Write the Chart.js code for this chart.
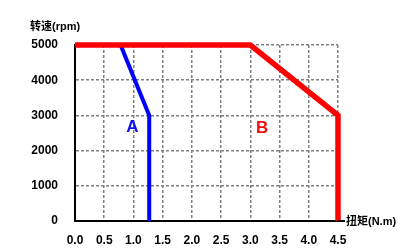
<!DOCTYPE html>
<html>
<head>
<meta charset="utf-8">
<script src="https://cdn.jsdelivr.net/npm/chart.js@4/dist/chart.umd.min.js"></script>
<style>
  html, body { margin: 0; padding: 0; background: #fff; }
  #wrap { width: 398px; height: 248px; }
</style>
</head>
<body>
<div id="wrap"><canvas id="speedTorqueChart"></canvas></div>
<script>
// Torque (N.m) / speed (rpm) curves
const torqueA = [0.78, 1.27, 1.27];
const speedA = [5000, 3000, 0];
const torqueB = [0, 3.0, 4.5, 4.5];
const speedB = [5000, 5000, 3000, 0];
const xTicks = [0, 0.5, 1, 1.5, 2, 2.5, 3, 3.5, 4, 4.5];
const yTicks = [0, 1000, 2000, 3000, 4000, 5000];
const xTitle = "扭矩(N.m)";
const yTitle = "转速(rpm)";

function toPoints(xs, ys) {
  return xs.map((x, i) => {
    return { x: x, y: ys[i] };
  });
}

// axis titles, curve names and the short axis overrun
const labelPlugin = {
  id: "labels",
  afterDraw(chart) {
    const ctx = chart.ctx;
    const area = chart.chartArea;
    const xs = chart.scales.x;
    const ys = chart.scales.y;
    ctx.save();
    ctx.strokeStyle = "#000";
    ctx.lineWidth = 2;
    ctx.beginPath();
    ctx.moveTo(area.right, area.bottom);
    ctx.lineTo(area.right + 7, area.bottom);
    ctx.stroke();

    ctx.fillStyle = "#000";
    ctx.textBaseline = "middle";
    ctx.textAlign = "left";
    ctx.font = "bold 11px 'Liberation Sans', 'Noto Sans CJK SC', sans-serif";
    ctx.fillText(yTitle, 30, 27);
    ctx.fillText(xTitle, area.right + 8, area.bottom + 1);

    ctx.textAlign = "center";
    ctx.font = "bold 17px 'Liberation Sans', Arial, sans-serif";
    ctx.fillStyle = "#1010f0";
    ctx.fillText("A", xs.getPixelForValue(0.98), ys.getPixelForValue(2660));
    ctx.fillStyle = "#f01010";
    ctx.fillText("B", xs.getPixelForValue(3.2), ys.getPixelForValue(2630));
    ctx.restore();
  },
};

const tickFont = { family: "'Liberation Sans', Arial, sans-serif", size: 12, weight: "bold" };
const lineClip = { left: 0, top: 4, right: 4, bottom: 0 };

const config = {
  type: "scatter",
  data: {
    datasets: [
      {
        label: "B",
        data: toPoints(torqueB, speedB),
        showLine: true,
        borderColor: "#ff0000",
        borderWidth: 5.5,
        pointRadius: 0,
        borderJoinStyle: "miter",
        clip: lineClip,
      },
      {
        label: "A",
        data: toPoints(torqueA, speedA),
        showLine: true,
        borderColor: "#0000ff",
        borderWidth: 4,
        pointRadius: 0,
        borderJoinStyle: "miter",
        clip: lineClip,
      },
    ],
  },
  options: {
    responsive: true,
    maintainAspectRatio: false,
    animation: false,
    layout: { padding: { left: 0, right: 60, top: 45, bottom: 0 } },
    plugins: {
      legend: { display: false },
      tooltip: { enabled: false },
    },
    scales: {
      x: {
        type: "linear",
        min: 0,
        max: 4.5,
        afterBuildTicks: (scale) => {
          scale.ticks = xTicks.map((v) => ({ value: v }));
        },
        afterFit: (scale) => {
          scale.height = 27;
        },
        ticks: {
          color: "#000",
          font: tickFont,
          padding: 12,
          maxRotation: 0,
          callback: (v) => Number(v).toFixed(1),
        },
        grid: { color: "#808080", lineWidth: 1.5, drawTicks: false },
        border: { color: "#000", width: 2, dash: [3, 2] },
      },
      y: {
        type: "linear",
        min: 0,
        max: 5000,
        afterBuildTicks: (scale) => {
          scale.ticks = yTicks.map((v) => ({ value: v }));
        },
        afterFit: (scale) => {
          scale.width = 75;
        },
        ticks: {
          color: "#000",
          font: tickFont,
          padding: 17,
          callback: (v) => String(v),
        },
        grid: { color: "#808080", lineWidth: 1.5, drawTicks: false },
        border: { color: "#000", width: 2, dash: [3, 2] },
      },
    },
  },
  plugins: [labelPlugin],
};

window.onload = function () {
  const ctx = document.getElementById("speedTorqueChart").getContext("2d");
  window.speedChart = new Chart(ctx, config);
};
</script>
</body>
</html>
